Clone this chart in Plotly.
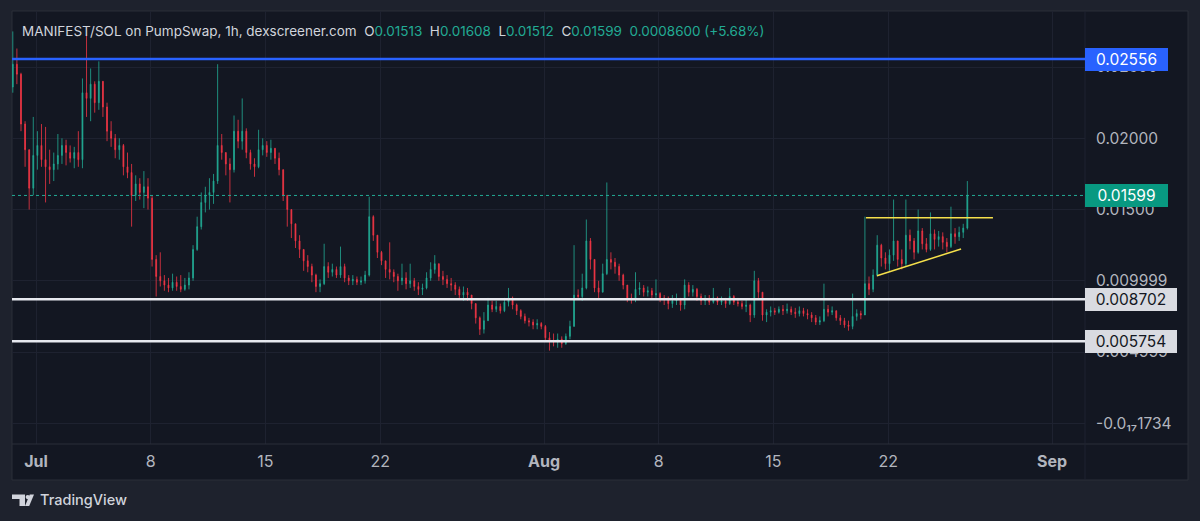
import plotly.graph_objects as go
import pandas as pd

# ---------------- data (6-hour candles) ----------------
start_time = "2025-06-29 14:00"
step = "6h"
first_open = 0.0236

close = [
    0.0252, 0.0245, 0.0210, 0.0192, 0.0165, 0.0188, 0.0195, 0.0185, 0.0180, 0.0178,
    0.0182, 0.0188, 0.0195, 0.0190, 0.0186, 0.0190, 0.0185, 0.0232, 0.0228, 0.0238,
    0.0225, 0.0240, 0.0222, 0.0205, 0.0200, 0.0192, 0.0195, 0.0180, 0.0176, 0.0160,
    0.0168, 0.0162, 0.0166, 0.0158, 0.0115, 0.0103, 0.0100, 0.0097, 0.0095, 0.0099,
    0.0096, 0.0094, 0.0097, 0.0102, 0.0122, 0.0138, 0.0155, 0.0160, 0.0162, 0.0170,
    0.0195, 0.0190, 0.0182, 0.0178, 0.0205, 0.0198, 0.0205, 0.0190, 0.0182, 0.0180,
    0.0192, 0.0195, 0.0190, 0.0193, 0.0186, 0.0178, 0.0160, 0.0150, 0.0140, 0.0128,
    0.0122, 0.0114, 0.0110, 0.0104, 0.0096, 0.0098, 0.0110, 0.0106, 0.0108, 0.0104,
    0.0110, 0.0102, 0.0100, 0.0101, 0.0099, 0.0100, 0.0104, 0.0145, 0.0132, 0.0120,
    0.0114, 0.0108, 0.0106, 0.0103, 0.0100, 0.0102, 0.0098, 0.0100, 0.0096, 0.0094,
    0.0095, 0.0102, 0.0108, 0.0112, 0.0103, 0.0101, 0.0098, 0.0097, 0.0094, 0.0090,
    0.0092, 0.0090, 0.0084, 0.0074, 0.0066, 0.0072, 0.0083, 0.0080, 0.0082, 0.0079,
    0.0085, 0.0088, 0.0083, 0.0079, 0.0075, 0.0072, 0.0071, 0.0069, 0.0070, 0.0068,
    0.0060, 0.0058, 0.0057, 0.0059, 0.0056, 0.0061, 0.0068, 0.0090, 0.0089, 0.0095,
    0.0128, 0.0115, 0.0095, 0.0092, 0.0105, 0.0115, 0.0113, 0.0110, 0.0104, 0.0097,
    0.0088, 0.0087, 0.0094, 0.0095, 0.0092, 0.0093, 0.0090, 0.0091, 0.0088, 0.0087,
    0.0084, 0.0086, 0.0087, 0.0083, 0.0097, 0.0092, 0.0094, 0.0089, 0.0086, 0.0087,
    0.0085, 0.0088, 0.0085, 0.0086, 0.0084, 0.0089, 0.0085, 0.0084, 0.0082, 0.0083,
    0.0076, 0.0100, 0.0092, 0.0076, 0.0078, 0.0079, 0.0078, 0.0080, 0.0079, 0.0080,
    0.0078, 0.0077, 0.0079, 0.0077, 0.0076, 0.0074, 0.0071, 0.0072, 0.0080, 0.0078,
    0.0079, 0.0074, 0.0072, 0.0069, 0.0068, 0.0075, 0.0077, 0.0076, 0.0098, 0.0094,
    0.0104, 0.0125, 0.0116, 0.0112, 0.0118, 0.0128, 0.0115, 0.0112, 0.0132, 0.0128,
    0.0120, 0.0135, 0.0126, 0.0122, 0.0133, 0.0129, 0.0131, 0.0127, 0.0124, 0.0133,
    0.0131, 0.0134, 0.0137, 0.01599,
]
high = [
    0.0275, 0.0263, 0.0246, 0.0212, 0.0192, 0.0215, 0.0205, 0.0210, 0.0208, 0.0192,
    0.0190, 0.0203, 0.0200, 0.0199, 0.0195, 0.0194, 0.0205, 0.0242, 0.0273, 0.0249,
    0.0240, 0.0254, 0.0240, 0.0225, 0.0212, 0.0203, 0.0200, 0.0196, 0.0190, 0.0182,
    0.0174, 0.0172, 0.0177, 0.0172, 0.0160, 0.0118, 0.0120, 0.0104, 0.0102, 0.0105,
    0.0103, 0.0104, 0.0102, 0.0106, 0.0125, 0.0145, 0.0162, 0.0166, 0.0172, 0.0175,
    0.0252, 0.0203, 0.0190, 0.0186, 0.0216, 0.0213, 0.0228, 0.0207, 0.0192, 0.0186,
    0.0206, 0.0200, 0.0198, 0.0199, 0.0193, 0.0190, 0.0178, 0.0160, 0.0150, 0.0140,
    0.0132, 0.0122, 0.0118, 0.0112, 0.0105, 0.0101, 0.0126, 0.0113, 0.0112, 0.0110,
    0.0124, 0.0112, 0.0104, 0.0104, 0.0103, 0.0103, 0.0107, 0.0159, 0.0146, 0.0132,
    0.0121, 0.0114, 0.0127, 0.0108, 0.0105, 0.0112, 0.0106, 0.0112, 0.0102, 0.0099,
    0.0098, 0.0106, 0.0113, 0.0118, 0.0112, 0.0107, 0.0104, 0.0102, 0.0099, 0.0096,
    0.0096, 0.0095, 0.0090, 0.0083, 0.0075, 0.0078, 0.0088, 0.0086, 0.0086, 0.0084,
    0.0088, 0.0095, 0.0089, 0.0084, 0.0080, 0.0077, 0.0074, 0.0073, 0.0073, 0.0071,
    0.0069, 0.0064, 0.0063, 0.0063, 0.0061, 0.0063, 0.0072, 0.0125, 0.0094, 0.0105,
    0.0143, 0.0130, 0.0115, 0.0100, 0.0112, 0.0169, 0.0120, 0.0116, 0.0112, 0.0105,
    0.0097, 0.0091, 0.0106, 0.0099, 0.0097, 0.0096, 0.0095, 0.0101, 0.0092, 0.0090,
    0.0089, 0.0090, 0.0091, 0.0088, 0.0101, 0.0099, 0.0097, 0.0095, 0.0091, 0.0090,
    0.0090, 0.0095, 0.0089, 0.0089, 0.0088, 0.0095, 0.0090, 0.0088, 0.0086, 0.0087,
    0.0084, 0.0107, 0.0102, 0.0092, 0.0080, 0.0082, 0.0081, 0.0082, 0.0083, 0.0084,
    0.0082, 0.0081, 0.0082, 0.0081, 0.0080, 0.0078, 0.0076, 0.0075, 0.0098, 0.0083,
    0.0082, 0.0079, 0.0076, 0.0074, 0.0072, 0.0091, 0.0080, 0.0079, 0.0145, 0.0103,
    0.0108, 0.0132, 0.0126, 0.0120, 0.0122, 0.0157, 0.0128, 0.0122, 0.0157, 0.0136,
    0.0130, 0.0150, 0.0137, 0.0130, 0.0148, 0.0136, 0.0135, 0.0134, 0.0130, 0.0152,
    0.0137, 0.0138, 0.0140, 0.0170,
]
low = [
    0.0232, 0.0238, 0.0205, 0.0180, 0.0150, 0.0160, 0.0178, 0.0180, 0.0155, 0.0168,
    0.0170, 0.0178, 0.0182, 0.0181, 0.0183, 0.0179, 0.0180, 0.0179, 0.0215, 0.0212,
    0.0218, 0.0220, 0.0215, 0.0198, 0.0194, 0.0186, 0.0185, 0.0174, 0.0172, 0.0138,
    0.0156, 0.0157, 0.0151, 0.0150, 0.0110, 0.0089, 0.0096, 0.0093, 0.0092, 0.0093,
    0.0093, 0.0092, 0.0093, 0.0094, 0.0100, 0.0121, 0.0136, 0.0148, 0.0150, 0.0154,
    0.0168, 0.0185, 0.0174, 0.0155, 0.0176, 0.0193, 0.0192, 0.0186, 0.0178, 0.0173,
    0.0179, 0.0188, 0.0187, 0.0185, 0.0182, 0.0174, 0.0156, 0.0138, 0.0130, 0.0123,
    0.0116, 0.0107, 0.0106, 0.0099, 0.0092, 0.0092, 0.0097, 0.0102, 0.0103, 0.0102,
    0.0102, 0.0099, 0.0097, 0.0097, 0.0097, 0.0097, 0.0098, 0.0103, 0.0128, 0.0116,
    0.0111, 0.0102, 0.0101, 0.0099, 0.0093, 0.0097, 0.0094, 0.0095, 0.0093, 0.0090,
    0.0090, 0.0094, 0.0100, 0.0105, 0.0100, 0.0097, 0.0095, 0.0093, 0.0090, 0.0087,
    0.0086, 0.0086, 0.0080, 0.0070, 0.0062, 0.0063, 0.0072, 0.0078, 0.0078, 0.0077,
    0.0078, 0.0082, 0.0080, 0.0076, 0.0073, 0.0070, 0.0068, 0.0066, 0.0066, 0.0066,
    0.0058, 0.0051, 0.0054, 0.0053, 0.0053, 0.0055, 0.0059, 0.0068, 0.0087, 0.0086,
    0.0094, 0.0108, 0.0092, 0.0088, 0.0092, 0.0104, 0.0108, 0.0105, 0.0100, 0.0094,
    0.0085, 0.0084, 0.0085, 0.0090, 0.0089, 0.0089, 0.0088, 0.0088, 0.0085, 0.0083,
    0.0080, 0.0081, 0.0083, 0.0079, 0.0080, 0.0089, 0.0089, 0.0086, 0.0083, 0.0083,
    0.0083, 0.0084, 0.0083, 0.0083, 0.0081, 0.0083, 0.0083, 0.0082, 0.0080, 0.0078,
    0.0071, 0.0074, 0.0088, 0.0072, 0.0071, 0.0075, 0.0076, 0.0077, 0.0076, 0.0077,
    0.0076, 0.0074, 0.0075, 0.0075, 0.0073, 0.0071, 0.0069, 0.0069, 0.0071, 0.0075,
    0.0076, 0.0072, 0.0069, 0.0067, 0.0065, 0.0066, 0.0072, 0.0073, 0.0076, 0.0090,
    0.0092, 0.0103, 0.0110, 0.0108, 0.0107, 0.0114, 0.0110, 0.0108, 0.0110, 0.0122,
    0.0115, 0.0119, 0.0122, 0.0120, 0.0121, 0.0122, 0.0124, 0.0122, 0.0120, 0.0123,
    0.0126, 0.0128, 0.0130, 0.0136,
]

# price levels drawn on the chart
resistance_level = 0.02556
support_levels = [0.008702, 0.005754]
last_price = 0.01599

# trend lines of the triangle (dates, prices)
flat_line_x = ["2025-08-20 15:30", "2025-08-28 09:30"]
flat_line_y = [0.01443, 0.01443]
rising_line_x = ["2025-08-21 07:40", "2025-08-26 10:50"]
rising_line_y = [0.01036, 0.01223]

# axis ticks
y_tickvals = [0.025, 0.02, 0.015, 0.009999, 0.004999, 0.0]
y_ticktext = ["0.02500", "0.02000", "0.01500", "0.009999", "0.004999", "-0.0\u2081\u20871734"]
x_tickvals = ["2025-07-01", "2025-07-08", "2025-07-15", "2025-07-22", "2025-08-01",
              "2025-08-08", "2025-08-15", "2025-08-22", "2025-09-01"]
x_ticktext = ["<b>Jul</b>", "8", "15", "22", "<b>Aug</b>", "8", "15", "22", "<b>Sep</b>"]

header_text = "MANIFEST/SOL on PumpSwap, 1h, dexscreener.com"
ohlc_header = [("O", "0.01513"), ("H", "0.01608"), ("L", "0.01512"), ("C", "0.01599")]
change_text = "0.0008600 (+5.68%)"

# ---------------- build ----------------
dates = pd.date_range(start_time, periods=len(close), freq=step)
opens = [first_open] + close[:-1]
highs = [max(h, o, c) for h, o, c in zip(high, opens, close)]
lows = [min(l, o, c) for l, o, c in zip(low, opens, close)]

FONT = "Inter, Roboto, sans-serif"
UP = "#22ab94"
DOWN = "#f23645"
BG = "#131722"
OUTER = "#1e222d"
GRID = "#1e2230"
TEXT = "#b2b5be"

W, H = 1200, 521
L_, R_, T_, B_ = 12, 115, 11, 77
PW, PH = W - L_ - R_, H - T_ - B_


def px_x(p):
    return (p - L_) / PW


def px_y(p):
    return (H - B_ - p) / PH


fig = go.Figure()
fig.add_trace(go.Candlestick(
    x=dates, open=opens, high=highs, low=lows, close=close,
    increasing=dict(line=dict(color=UP, width=0.8), fillcolor=UP),
    decreasing=dict(line=dict(color=DOWN, width=0.8), fillcolor=DOWN),
    whiskerwidth=0, showlegend=False, hoverinfo="skip",
))

# trend lines
fig.add_trace(go.Scatter(x=flat_line_x, y=flat_line_y, mode="lines",
                         line=dict(color="#f5e04b", width=1.5), showlegend=False, hoverinfo="skip"))
fig.add_trace(go.Scatter(x=rising_line_x, y=rising_line_y, mode="lines",
                         line=dict(color="#f5e04b", width=1.5), showlegend=False, hoverinfo="skip"))

shapes = []
# panel background + border
shapes.append(dict(type="rect", xref="paper", yref="paper", x0=px_x(12), x1=px_x(1188),
                   y0=px_y(480), y1=px_y(11), fillcolor=BG, line=dict(color="#2a2e39", width=1),
                   layer="below"))
# time axis separator and price axis separator
shapes.append(dict(type="line", xref="paper", yref="paper", x0=px_x(12), x1=px_x(1188),
                   y0=0, y1=0, line=dict(color="#2a2e39", width=1)))
shapes.append(dict(type="line", xref="paper", yref="paper", x0=1, x1=1,
                   y0=px_y(480), y1=1, line=dict(color="#1e2230", width=1)))
# horizontal levels
shapes.append(dict(type="line", xref="paper", yref="y", x0=0, x1=1, y0=resistance_level,
                   y1=resistance_level, line=dict(color="#2962ff", width=2.5)))
for lv in support_levels:
    shapes.append(dict(type="line", xref="paper", yref="y", x0=0, x1=1, y0=lv, y1=lv,
                       line=dict(color="#e6e8ee", width=2.5)))
shapes.append(dict(type="line", xref="paper", yref="y", x0=0, x1=1, y0=last_price, y1=last_price,
                   line=dict(color=UP, width=1, dash="dot")))

# TradingView logo glyph
LOGO = "#d1d4dc"


def path_px(points):
    s = "M " + " L ".join(f"{px_x(a):.5f},{px_y(b):.5f}" for a, b in points) + " Z"
    return s


shapes.append(dict(type="path", xref="paper", yref="paper", fillcolor=LOGO, line=dict(width=0),
                   path=path_px([(12, 494.5), (25, 494.5), (25, 506), (19.5, 506), (19.5, 499), (12, 499)])))
shapes.append(dict(type="circle", xref="paper", yref="paper", fillcolor=LOGO, line=dict(width=0),
                   x0=px_x(25.6), x1=px_x(29.9), y0=px_y(499.2), y1=px_y(494.9)))
shapes.append(dict(type="path", xref="paper", yref="paper", fillcolor=LOGO, line=dict(width=0),
                   path=path_px([(29.8, 494.5), (34, 494.5), (29.2, 506), (25, 506)])))

annotations = []


def price_label(val, text, bg, fg, w):
    annotations.append(dict(xref="paper", x=1, xanchor="left", yref="y", y=val, yanchor="middle",
                            text=text, showarrow=False, bgcolor=bg, borderpad=3, borderwidth=0,
                            width=w, height=17, align="center",
                            font=dict(family=FONT, size=15.5, color=fg)))


price_label(resistance_level, f"{resistance_level:.5f}", "#2962ff", "#ffffff", 77)
price_label(last_price, f"{last_price:.5f}", "#089981", "#ffffff", 77)
for lv in support_levels:
    price_label(lv, f"{lv:.6f}", "#d9dbe1", "#131722", 86)

sp = "\u00a0"
hdr = header_text + sp * 2
for k, v in ohlc_header:
    hdr += f"{k}<span style='color:{UP}'>{v}</span>{sp*2}"
hdr += f"<span style='color:{UP}'>{change_text}</span>"
annotations.append(dict(xref="paper", yref="paper", x=px_x(20), y=px_y(31), xanchor="left",
                        yanchor="middle", text=hdr, showarrow=False,
                        font=dict(family=FONT, size=13.5, color="#d1d4dc")))
annotations.append(dict(xref="paper", yref="paper", x=px_x(38), y=px_y(500.5), xanchor="left",
                        yanchor="middle", text="TradingView", showarrow=False,
                        font=dict(family=FONT, size=14.5, color=LOGO, weight=500)))

fig.update_layout(
    width=W, height=H,
    margin=dict(l=L_, r=R_, t=T_, b=B_, pad=0),
    paper_bgcolor=OUTER, plot_bgcolor=BG,
    boxgap=0.7,
    shapes=shapes, annotations=annotations,
    hovermode=False,
    xaxis=dict(
        type="date", range=["2025-06-29 12:50", "2025-09-03 00:20"],
        rangeslider=dict(visible=False),
        tickvals=x_tickvals, ticktext=x_ticktext, ticks="",
        tickfont=dict(family=FONT, size=16, color=TEXT),
        ticklabelstandoff=6,
        showgrid=True, gridcolor=GRID, gridwidth=1, zeroline=False, showline=False,
        fixedrange=True,
    ),
    yaxis=dict(
        side="right", range=[-0.001453, 0.028934],
        tickvals=y_tickvals, ticktext=y_ticktext, ticks="",
        tickfont=dict(family=FONT, size=15.5, color=TEXT),
        ticklabelstandoff=10,
        showgrid=True, gridcolor=GRID, gridwidth=1, zeroline=False, showline=False,
        fixedrange=True,
    ),
)

fig.write_html(
    "out.html",
    config={"displayModeBar": False, "staticPlot": True},
    post_script=(
        "document.body.style.margin='0';"
        "document.body.style.padding='0';"
        "document.body.style.background='#1e222d';"
        "document.documentElement.style.background='#1e222d';"
    ),
)
